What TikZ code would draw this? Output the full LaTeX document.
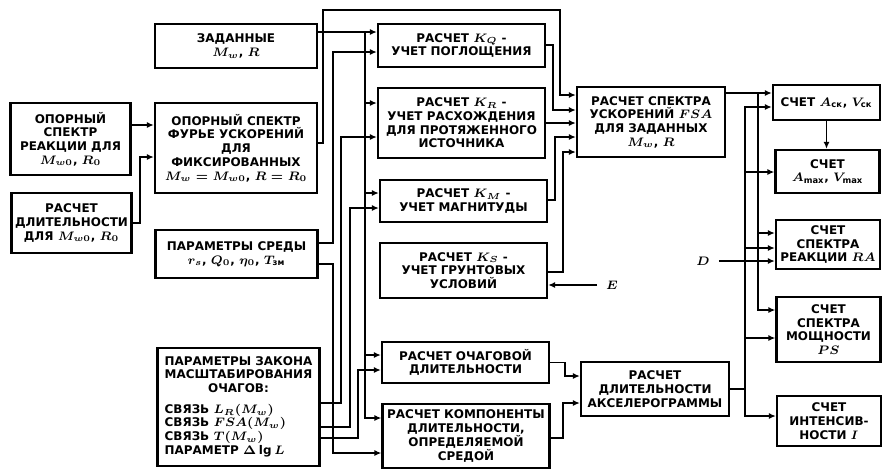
\documentclass[tikz,border=0pt]{standalone}
\usepackage{amsmath}
\usepackage{fontspec}
\setmainfont{DejaVu Sans}
\usetikzlibrary{arrows.meta}
\tikzset{
  box/.style={draw, line width=1.3pt, align=center, inner sep=1pt, font=\bfseries\boldmath\fontsize{6.8}{7.8}\selectfont},
  colA/.style={box, minimum width=2.40cm}, colB/.style={box, minimum width=3.24cm},
  colC/.style={box, minimum width=3.34cm}, colD/.style={box, minimum width=2.96cm},
  colE/.style={box, minimum width=2.08cm},
  klabel/.style={inner sep=5pt, font=\bfseries\boldmath\fontsize{7.5}{8}\selectfont},
  flow/.style={-{Latex[length=1.4mm,width=1.2mm]}, line width=0.9pt},
}

\begin{document}
\begin{tikzpicture}[x=0.02cm, y=-0.02cm]
    \useasboundingbox (0,0) rectangle (883,474);
    \node[colA, minimum height=1.44cm] (refresp) at (70.5,139) {ОПОРНЫЙ\\СПЕКТР\\РЕАКЦИИ ДЛЯ\\$M_{w0}$, $R_0$};
    \node[colA, minimum height=1.20cm] (refdur) at (71.5,223) {РАСЧЕТ\\ДЛИТЕЛЬНОСТИ\\ДЛЯ $M_{w0}$, $R_0$};
    \node[colB, minimum height=0.88cm] (given) at (236,46) {ЗАДАННЫЕ\\$M_w$, $R$};
    \node[colB, minimum height=1.80cm] (fourier) at (236,148) {ОПОРНЫЙ СПЕКТР\\ФУРЬЕ УСКОРЕНИЙ\\ДЛЯ\\ФИКСИРОВАННЫХ\\$M_w=M_{w0}$, $R=R_0$};
    \node[colB, minimum height=0.96cm] (medium) at (236.5,254) {ПАРАМЕТРЫ СРЕДЫ\\$r_s$, $Q_0$, $\eta_0$, $T_{\text{зм}}$};
    \node[colB, minimum height=2.36cm] (scalelaw) at (238.5,407) {\begin{tabular}{@{}l@{}}
      \multicolumn{1}{@{}c@{}}{ПАРАМЕТРЫ ЗАКОНА}\\
      \multicolumn{1}{@{}c@{}}{МАСШТАБИРОВАНИЯ}\\
      \multicolumn{1}{@{}c@{}}{ОЧАГОВ:}\\[4pt]
      СВЯЗЬ $L_R(M_w)$\\
      СВЯЗЬ $FSA(M_w)$\\
      СВЯЗЬ $T(M_w)$\\
      ПАРАМЕТР $\Delta\lg L$
    \end{tabular}};
    \node[colC, minimum height=0.86cm] (kq) at (461.5,45.5) {РАСЧЕТ $K_Q$ -\\УЧЕТ ПОГЛОЩЕНИЯ};
    \node[colC, minimum height=1.40cm] (kr) at (461.5,123) {РАСЧЕТ $K_R$ -\\УЧЕТ РАСХОЖДЕНИЯ\\ДЛЯ ПРОТЯЖЕННОГО\\ИСТОЧНИКА};
    \node[colC, minimum height=0.84cm] (km) at (463.5,201) {РАСЧЕТ $K_M$ -\\УЧЕТ МАГНИТУДЫ};
    \node[colC, minimum height=1.10cm] (ks) at (463.5,270.5) {РАСЧЕТ $K_S$ -\\УЧЕТ ГРУНТОВЫХ\\УСЛОВИЙ};
    \node[colC, minimum height=0.82cm] (srcdur) at (465.5,362.5) {РАСЧЕТ ОЧАГОВОЙ\\ДЛИТЕЛЬНОСТИ};
    \node[colC, minimum height=1.28cm] (meddur) at (466,436) {РАСЧЕТ КОМПОНЕНТЫ\\ДЛИТЕЛЬНОСТИ,\\ОПРЕДЕЛЯЕМОЙ\\СРЕДОЙ};
    \node[colD, minimum height=1.40cm] (fsa) at (651,122) {РАСЧЕТ СПЕКТРА\\УСКОРЕНИЙ $FSA$\\ДЛЯ ЗАДАННЫХ\\$M_w$, $R$};
    \node[colD, minimum height=1.08cm] (accdur) at (655,389) {РАСЧЕТ\\ДЛИТЕЛЬНОСТИ\\АКСЕЛЕРОГРАММЫ};
    \node[colE, minimum width=2.14cm, minimum height=0.70cm] (acc) at (826.5,102.5) {СЧЕТ $A_{\text{ск}}$, $V_{\text{ск}}$};
    \node[colE, minimum height=0.86cm] (amax) at (827.5,171.5) {СЧЕТ\\$A_{\max}$, $V_{\max}$};
    \node[colE, minimum height=0.98cm] (ra) at (828,244.5) {СЧЕТ\\СПЕКТРА\\РЕАКЦИИ $RA$};
    \node[colE, minimum height=1.30cm] (ps) at (828.5,329.5) {СЧЕТ\\СПЕКТРА\\МОЩНОСТИ\\$PS$};
    \node[colE, minimum height=1.00cm] (intens) at (829,421) {СЧЕТ\\ИНТЕНСИВ-\\НОСТИ $I$};
    \node[klabel] (E) at (612,285) {$E$};
    \node[klabel] (D) at (703,261) {$D$};
    % left column
    \draw[flow] (refresp.east |- 0,125) -- (fourier.west |- 0,125);
    \draw[flow] (refdur.east) -| (140,157) -- (fourier.west |- 0,157);
    \draw[flow] (fourier.east |- 0,143) -| (323,10) -| (560,95) -- (fsa.west |- 0,95);
    % given M_w, R
    \draw[flow] (given.east |- 0,32) -- (kq.west |- 0,32);
    \draw[flow] (given.east |- 0,32) -| (365,418) -- (meddur.west |- 0,418);
    \draw[flow] (365,103) -- (kr.west |- 0,103);
    \draw[flow] (365,193) -- (km.west |- 0,193);
    \draw[flow] (365,355) -- (srcdur.west |- 0,355);
    % medium and scaling law
    \draw[flow] (medium.east |- 0,243) -| (333,52) -- (kq.west |- 0,52);
    \draw[flow] (medium.east |- 0,264) -| (333,453) -- (meddur.west |- 0,453);
    \draw[flow] (scalelaw.east |- 0,403) -| (341,137) -- (kr.west |- 0,137);
    \draw[flow] (scalelaw.east |- 0,427) -| (350,208) -- (km.west |- 0,208);
    \draw[flow] (scalelaw.east |- 0,438) -| (358,370) -- (srcdur.west |- 0,370);
    % into FSA and duration
    \draw[flow] (kq.east |- 0,45) -| (553,110) -- (fsa.west |- 0,110);
    \draw[flow] (kr.east) -- (fsa.west |- kr.east);
    \draw[flow] (km.east |- 0,200) -| (555,137) -- (fsa.west |- 0,137);
    \draw[flow] (ks.east |- 0,272) -| (563,152) -- (fsa.west |- 0,152);
    \draw[flow] (E) -- (ks.east |- E);
    \draw[flow] (srcdur.east) -| (565,376) -- (accdur.west |- 0,376);
    \draw[flow] (meddur.east |- 0,438) -| (563,403) -- (accdur.west |- 0,403);
    % outputs
    \draw[flow] (fsa.east |- 0,93) -- (acc.west |- 0,93);
    \draw[flow] (fsa.east |- 0,93) -| (758,310) -- (ps.west |- 0,310);
    \draw[flow] (758,233) -- (ra.west |- 0,233);
    \draw[flow] (accdur.east) -| (745,107) -- (acc.west |- 0,107);
    \draw[flow] (accdur.east) -| (745,416) -- (intens.west |- 0,416);
    \draw[flow] (745,172) -- (amax.west |- 0,172);
    \draw[flow] (745,248) -- (ra.west |- 0,248);
    \draw[flow] (745,338) -- (ps.west |- 0,338);
    \draw[flow] (D) -- (ra.west |- D);
    \draw[flow] (acc.south) -- (acc.south |- amax.north);
  \end{tikzpicture}
\end{document}
